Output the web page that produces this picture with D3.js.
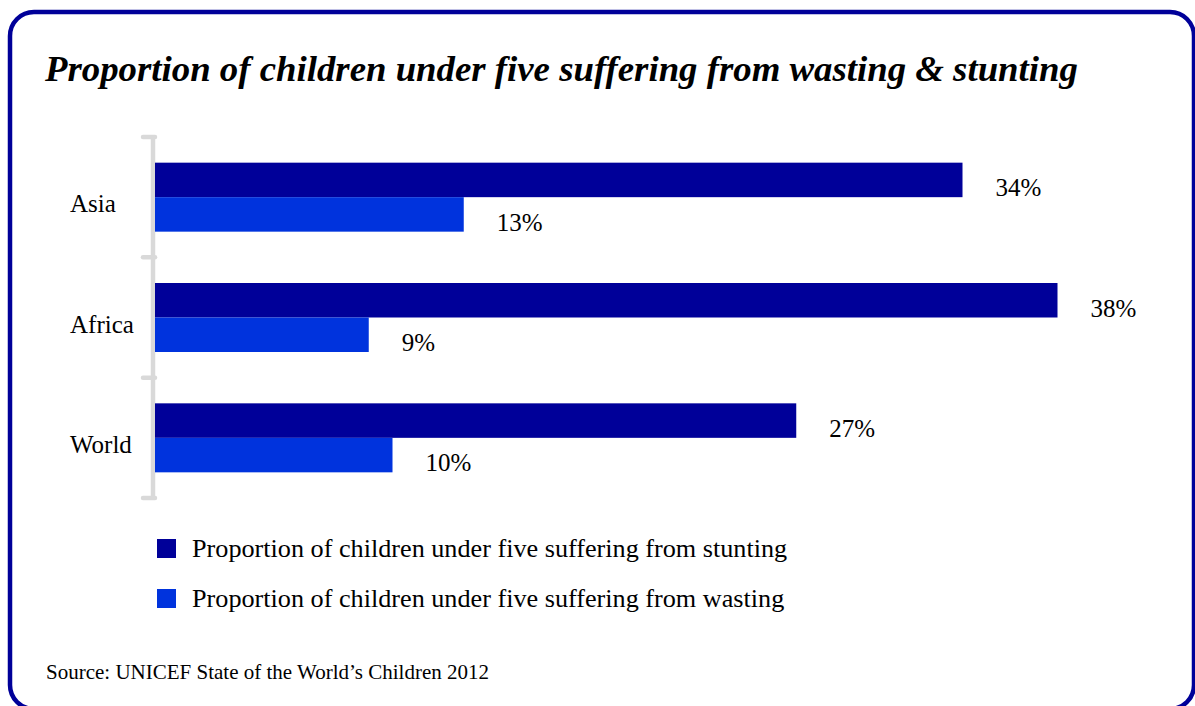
<!DOCTYPE html>
<html>
<head>
<meta charset="utf-8">
<script src="https://cdn.jsdelivr.net/npm/d3@7"></script>
<style>
  html, body { margin: 0; padding: 0; background: #fff; }
  svg { display: block; font-family: "Liberation Serif", "Times New Roman", serif; }
</style>
</head>
<body>
<svg id="chart" width="1195" height="706"></svg>
<script>
const categories = ["Asia", "Africa", "World"];
const seriesNames = [
  "Proportion of children under five suffering from stunting",
  "Proportion of children under five suffering from wasting"
];
const stunting = [34, 38, 27];
const wasting = [13, 9, 10];
const title = "Proportion of children under five suffering from wasting & stunting";
const source = "Source: UNICEF State of the World\u2019s Children 2012";

const colors = ["#000099", "#0033DD"];
const seriesValues = [stunting, wasting];

const svg = d3.select("#chart");

// frame
svg.append("rect")
  .attr("x", 10).attr("y", 12)
  .attr("width", 1184).attr("height", 697)
  .attr("rx", 24).attr("ry", 24)
  .attr("fill", "none")
  .attr("stroke", "#000099")
  .attr("stroke-width", 4.5);

// title
svg.append("text")
  .attr("x", 45).attr("y", 81)
  .attr("font-size", 36.8)
  .attr("font-weight", "bold")
  .attr("font-style", "italic")
  .attr("fill", "#000")
  .text(title);

const x = d3.scaleLinear().domain([0, 40]).range([155, 155 + 950]);
const y = d3.scaleBand().domain(categories).range([137, 498]).padding(0);
const ySub = d3.scaleBand().domain([0, 1]).range([0, y.bandwidth()]).paddingOuter(0.744).paddingInner(0);

// axis (bracket style)
const axisG = svg.append("g");
axisG.append("line")
  .attr("x1", 153).attr("x2", 153)
  .attr("y1", y.range()[0]).attr("y2", y.range()[1])
  .attr("stroke", "#d9d9d9").attr("stroke-width", 4.5);
const tickYs = categories.map(c => y(c)).concat([y.range()[1]]);
axisG.selectAll("line.tick").data(tickYs).join("line")
  .attr("class", "tick")
  .attr("x1", 143).attr("x2", 155)
  .attr("y1", d => d).attr("y2", d => d)
  .attr("stroke", "#d9d9d9").attr("stroke-width", 4.5)
  .attr("stroke-linecap", "round");

// category labels
svg.selectAll("text.cat").data(categories).join("text")
  .attr("class", "cat")
  .attr("x", 70)
  .attr("y", d => y(d) + y.bandwidth() / 2 + 15)
  .attr("font-size", 25)
  .attr("fill", "#000")
  .text(d => d);

// bars
seriesValues.forEach((vals, si) => {
  const g = svg.append("g");
  g.selectAll("rect").data(categories).join("rect")
    .attr("x", x(0))
    .attr("y", (c) => y(c) + ySub(si))
    .attr("width", (c, i) => x(vals[i]) - x(0))
    .attr("height", ySub.bandwidth())
    .attr("fill", colors[si]);
  g.selectAll("text").data(categories).join("text")
    .attr("x", (c, i) => x(vals[i]) + 33)
    .attr("y", (c) => y(c) + ySub(si) + ySub.bandwidth() - 1)
    .attr("font-size", 25)
    .attr("fill", "#000")
    .text((c, i) => vals[i] + "%");
});

// legend
const legend = svg.append("g");
seriesNames.forEach((name, i) => {
  const ly = 548 + i * 50;
  legend.append("rect")
    .attr("x", 157).attr("y", ly - 9)
    .attr("width", 19).attr("height", 19)
    .attr("fill", colors[i]);
  legend.append("text")
    .attr("x", 192).attr("y", ly + 9)
    .attr("font-size", 26.2)
    .attr("fill", "#000")
    .text(name);
});

// source
svg.append("text")
  .attr("x", 46).attr("y", 679)
  .attr("font-size", 21)
  .attr("fill", "#000")
  .text(source);
</script>
</body>
</html>
